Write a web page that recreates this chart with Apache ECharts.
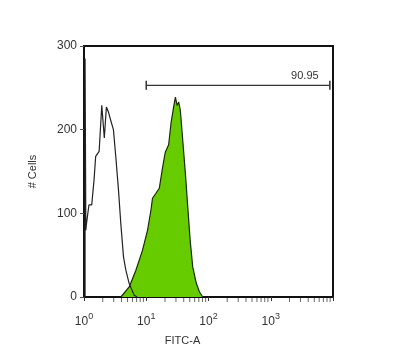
<!DOCTYPE html>
<html>
<head>
<meta charset="utf-8">
<script src="https://cdn.jsdelivr.net/npm/echarts@6/dist/echarts.min.js"></script>
<style>
html,body{margin:0;padding:0;background:#fff;}
#c{width:400px;height:352px;}
</style>
</head>
<body>
<div id="c"></div>
<script>
// Unstained control histogram (FITC-A value, # cells)
const controlX = [1.04, 1.04, 1.06, 1.07, 1.09, 1.20, 1.33, 1.45, 1.54, 1.75, 1.93, 2.12, 2.29, 2.47, 2.69, 2.97, 3.24, 3.58, 3.90, 4.31, 4.70, 5.32, 6.40, 7.16];
const controlY = [0, 285, 285, 80, 86, 110, 110, 140, 168, 174, 229, 190, 227, 221, 211, 200, 168, 128, 88, 48, 32, 16, 2, 0];
// Stained histogram
const stainedX = [3.91, 5.32, 6.82, 8.72, 10.5, 11.9, 12.6, 14.3, 16.2, 18.3, 20.2, 22.9, 25.0, 27.5, 29.4, 31.3, 33.2, 35.3, 38.5, 42.5, 46.4, 50.7, 55.8, 63.4, 71.6, 80.9];
const stainedY = [0, 12, 32, 56, 80, 104, 118, 124, 130, 155, 173, 182, 208, 227, 239, 229, 233, 223, 188, 148, 108, 68, 36, 17, 6, 0];
// Gate marker
const gateX = [10, 8900];
const gateY = 253;
const gateLabel = '90.95';
// Axis ticks
const xMajorTicks = [1, 10, 100, 1000, 10000];
const xTickLabels = {1: '0', 10: '1', 100: '2', 1000: '3'};
const xMinorMultipliers = [2, 3, 4, 5, 6, 7, 8, 9];
const xDecades = [1, 10, 100, 1000];
const yTicks = [0, 100, 200, 300];

const minorTicks = [];
xDecades.forEach(d => xMinorMultipliers.forEach(m => minorTicks.push([d * m, 0])));

const zip = (a, b) => a.map((v, i) => [v, b[i]]);

const chart = echarts.init(document.getElementById('c'), null, {renderer: 'canvas'});
const font = 'Liberation Sans, Arial, sans-serif';
chart.setOption({
  animation: false,
  backgroundColor: '#fff',
  grid: {left: 84, right: 67, top: 46, bottom: 55, show: true, borderColor: '#111', borderWidth: 2, backgroundColor: 'transparent'},
  xAxis: {
    type: 'log', logBase: 10, min: xMajorTicks[0], max: xMajorTicks[xMajorTicks.length - 1],
    name: 'FITC-A', nameLocation: 'middle', nameGap: 38,
    nameTextStyle: {fontFamily: font, fontSize: 11, color: '#333', padding: [0, 52, 0, 0]},
    axisLine: {show: true, lineStyle: {color: '#111', width: 2}},
    axisTick: {show: true, inside: false, length: 4, lineStyle: {color: '#333', width: 1}},
    splitLine: {show: false},
    axisLabel: {
      margin: 15,
      formatter: v => xTickLabels[v] !== undefined ? '{b|10}{s|' + xTickLabels[v] + '}' : '',
      rich: {
        b: {fontFamily: font, fontSize: 12, color: '#333', verticalAlign: 'bottom', lineHeight: 16},
        s: {fontFamily: font, fontSize: 9, color: '#333', verticalAlign: 'top', lineHeight: 16, padding: [0, 0, 8, 0]}
      }
    }
  },
  yAxis: {
    type: 'value', min: yTicks[0], max: yTicks[yTicks.length - 1], interval: 100,
    name: '# Cells', nameLocation: 'middle', nameGap: 46, nameRotate: 90,
    nameTextStyle: {fontFamily: font, fontSize: 11, color: '#333'},
    axisLine: {show: true, lineStyle: {color: '#111', width: 2}},
    axisTick: {show: true, length: 4, lineStyle: {color: '#555'}},
    splitLine: {show: false},
    axisLabel: {fontFamily: font, fontSize: 12, color: '#333', margin: 7}
  },
  series: [
    {
      type: 'line', data: zip(stainedX, stainedY), showSymbol: false, symbol: 'none',
      lineStyle: {color: '#1a2a0a', width: 1.2}, areaStyle: {color: '#66cc00', opacity: 1}, z: 2
    },
    {
      type: 'line', data: zip(controlX, controlY), showSymbol: false, symbol: 'none',
      lineStyle: {color: '#222', width: 1.2}, z: 3
    },
    {
      type: 'line', data: gateX.map(x => [x, gateY]), symbol: 'rect', symbolSize: [1.5, 9], showSymbol: true,
      lineStyle: {color: '#333', width: 1.2}, itemStyle: {color: '#333'}, z: 4,
      label: {show: true, position: 'top', offset: [-25, 6], fontFamily: font, fontSize: 11, color: '#333',
        formatter: p => p.dataIndex === 1 ? gateLabel : ''}
    },
    {
      type: 'scatter', data: minorTicks, symbol: 'rect', symbolSize: [1, 4], symbolOffset: [0, 3],
      itemStyle: {color: '#444'}, silent: true, z: 5
    }
  ]
});
</script>
</body>
</html>
